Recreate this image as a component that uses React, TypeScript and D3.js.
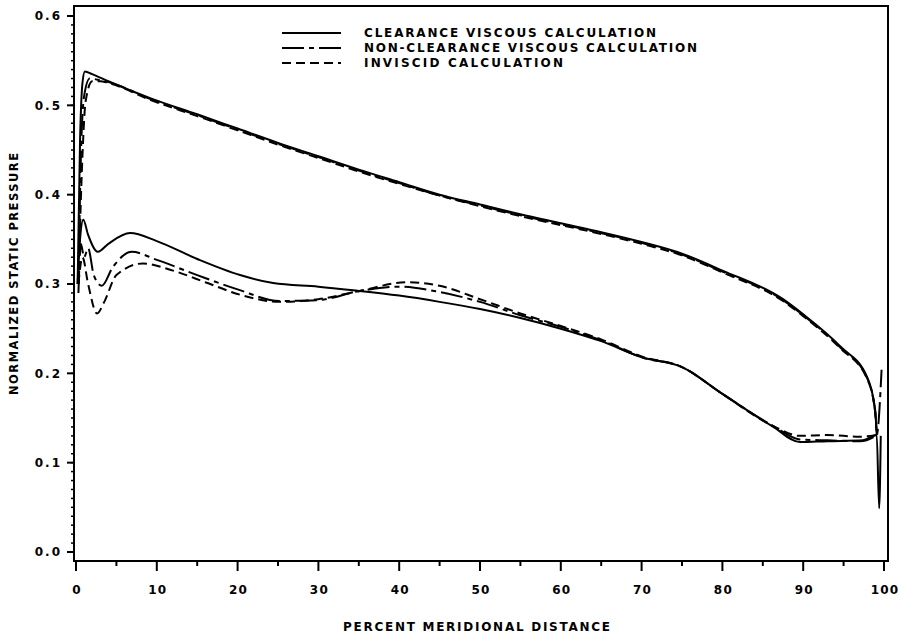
import * as d3 from "d3";

// percent meridional distance (x) and normalized static pressure (y)
const clearanceUpper: [number, number][] = [
  [0.2, 0.3], [0.5, 0.46], [0.8, 0.525], [1.1, 0.538], [2, 0.535], [4, 0.527],
  [9.5, 0.507], [15, 0.49], [20, 0.474], [25, 0.458], [30, 0.443], [35, 0.428],
  [40, 0.414], [45, 0.4], [50, 0.389], [55, 0.378], [60, 0.368], [65, 0.358],
  [70, 0.347], [75, 0.334], [80, 0.315], [87.5, 0.283], [90, 0.266],
  [94.6, 0.23], [97.9, 0.196], [98.9, 0.159], [99.1, 0.131],
];
const clearanceLower: [number, number][] = [
  [0.2, 0.3], [0.5, 0.35], [0.9, 0.372], [1.5, 0.355], [2.7, 0.336], [4, 0.345],
  [6.7, 0.357], [10, 0.348], [15, 0.328], [20.3, 0.31], [24.4, 0.301], [30, 0.297],
  [34.3, 0.293], [40, 0.287], [45, 0.28], [50, 0.272], [55, 0.262], [60, 0.25],
  [65, 0.236], [70, 0.218], [75, 0.207], [80, 0.177], [86.3, 0.14], [89.6, 0.123],
  [93, 0.124], [97.4, 0.125], [99.1, 0.131], [99.4, 0.049], [99.6, 0.13],
];
const nonClearanceUpper: [number, number][] = [
  [0.3, 0.3], [0.6, 0.44], [1, 0.51], [1.7, 0.53], [3, 0.528], [4, 0.526],
  [9.5, 0.506], [15, 0.489], [20, 0.473], [25, 0.457], [30, 0.442], [35, 0.427],
  [40, 0.413], [45, 0.399], [50, 0.388], [55, 0.377], [60, 0.367], [65, 0.357],
  [70, 0.346], [75, 0.333], [80, 0.314], [87.5, 0.282], [90, 0.265],
  [94.6, 0.229], [97.9, 0.195], [98.9, 0.158], [99.1, 0.131],
];
const nonClearanceLower: [number, number][] = [
  [0.3, 0.29], [0.6, 0.345], [1, 0.33], [1.5, 0.34], [2.2, 0.31], [3.2, 0.298],
  [4.5, 0.318], [6.9, 0.336], [10, 0.327], [15, 0.31], [20, 0.294], [25.2, 0.281],
  [30, 0.282], [35, 0.292], [40, 0.297], [45, 0.291], [50, 0.28], [55, 0.265],
  [60, 0.252], [65, 0.237], [70, 0.218], [75, 0.207], [80, 0.177], [86.3, 0.141],
  [89.6, 0.126], [93, 0.125], [97, 0.124], [99.1, 0.131], [99.7, 0.204],
];
const inviscidUpper: [number, number][] = [
  [0.3, 0.3], [0.7, 0.42], [1.2, 0.505], [2, 0.527], [3, 0.527], [4, 0.525],
  [9.5, 0.505], [15, 0.488], [20, 0.472], [25, 0.456], [30, 0.441], [35, 0.426],
  [40, 0.412], [45, 0.399], [50, 0.387], [55, 0.376], [60, 0.366], [65, 0.356],
  [70, 0.345], [75, 0.332], [80, 0.313], [87.5, 0.281], [90, 0.264],
  [94.6, 0.228], [97.9, 0.194], [98.9, 0.157], [99.1, 0.131],
];
const inviscidLower: [number, number][] = [
  [0.3, 0.3], [0.8, 0.33], [1.5, 0.3], [2.6, 0.267], [3.5, 0.28], [5, 0.31],
  [8.3, 0.323], [12, 0.315], [16, 0.302], [20.3, 0.288], [25.2, 0.28], [30, 0.283],
  [35, 0.292], [41, 0.302], [45, 0.298], [50, 0.283], [55, 0.267], [60, 0.253],
  [65, 0.238], [70, 0.219], [75, 0.207], [80, 0.177], [86.3, 0.141], [89.6, 0.13],
  [93, 0.131], [97, 0.129], [99.1, 0.131],
];

const legendLabels = [
  "CLEARANCE VISCOUS CALCULATION",
  "NON-CLEARANCE VISCOUS CALCULATION",
  "INVISCID CALCULATION",
];
const dashes = ["none", "22,5,5,5", "9,5"];
const series = [
  { curves: [clearanceUpper, clearanceLower], dash: dashes[0] },
  { curves: [nonClearanceUpper, nonClearanceLower], dash: dashes[1] },
  { curves: [inviscidUpper, inviscidLower], dash: dashes[2] },
];

const xTicks = d3.range(0, 101, 10);
const xMinor = d3.range(5, 100, 10);
const yTicks = d3.range(0, 7).map((i) => i / 10);
const yMinor = d3.range(0, 61).map((i) => i / 100);

const W = 901;
const H = 638;
const frame = { left: 74, right: 888, top: 6, bottom: 561 };
const font = "'DejaVu Sans', sans-serif";

export default function App() {
  const x = d3.scaleLinear().domain([0, 100]).range([76, 884]);
  const y = d3.scaleLinear().domain([0, 0.6]).range([552, 16]);
  const line = d3
    .line<[number, number]>()
    .curve(d3.curveMonotoneX)
    .x((d) => x(d[0]))
    .y((d) => y(d[1]));

  const legendWidths = [292, 333, 199];

  return (
    <svg
      width={W}
      height={H}
      style={{ position: "absolute", left: 0, top: 0, background: "#fff" }}
    >
      {/* frame */}
      <rect
        x={frame.left}
        y={frame.top}
        width={frame.right - frame.left}
        height={frame.bottom - frame.top}
        fill="none"
        stroke="#000"
        strokeWidth={2}
      />

      {/* y ticks */}
      {yMinor.map((v) => (
        <line key={"ym" + v} x1={frame.left - 3} x2={frame.left} y1={y(v)} y2={y(v)} stroke="#000" strokeWidth={1.5} />
      ))}
      {yTicks.map((v) => (
        <g key={"y" + v}>
          <line x1={frame.left - 7} x2={frame.left} y1={y(v)} y2={y(v)} stroke="#000" strokeWidth={2} />
          <text
            x={62}
            y={y(v)}
            dy="0.36em"
            textAnchor="end"
            fontFamily={font}
            fontWeight="bold"
            fontSize={12}
            letterSpacing={2}
          >
            {v.toFixed(1)}
          </text>
        </g>
      ))}

      {/* x ticks */}
      {xMinor.map((v) => (
        <line key={"xm" + v} x1={x(v)} x2={x(v)} y1={frame.bottom} y2={frame.bottom + 5} stroke="#000" strokeWidth={2} />
      ))}
      {xTicks.map((v) => (
        <g key={"x" + v}>
          <line x1={x(v)} x2={x(v)} y1={frame.bottom} y2={frame.bottom + 10} stroke="#000" strokeWidth={2} />
          <text
            x={x(v) + 1}
            y={590}
            dy="0.36em"
            textAnchor="middle"
            fontFamily={font}
            fontWeight="bold"
            fontSize={12}
            letterSpacing={1.2}
          >
            {v}
          </text>
        </g>
      ))}

      {/* axis titles */}
      <text
        x={343}
        y={627}
        dy="0.36em"
        textLength={267}
        lengthAdjust="spacing"
        fontFamily={font}
        fontWeight="bold"
        fontSize={12}
      >
        PERCENT MERIDIONAL DISTANCE
      </text>
      <text
        transform={`translate(14,395) rotate(-90)`}
        dy="0.36em"
        textLength={242}
        lengthAdjust="spacing"
        fontFamily={font}
        fontWeight="bold"
        fontSize={11.5}
      >
        NORMALIZED STATIC PRESSURE
      </text>

      {/* curves */}
      {series.map((s, i) =>
        s.curves.map((c, j) => (
          <path
            key={i + "-" + j}
            d={line(c) ?? ""}
            fill="none"
            stroke="#000"
            strokeWidth={2}
            strokeDasharray={s.dash}
          />
        ))
      )}

      {/* legend */}
      {legendLabels.map((label, i) => (
        <g key={label} transform={`translate(0,${33 + i * 15})`}>
          <line x1={282} x2={341} y1={0} y2={0} stroke="#000" strokeWidth={2} strokeDasharray={dashes[i]} />
          <text
            x={364}
            y={0}
            dy="0.36em"
            textLength={legendWidths[i]}
            lengthAdjust="spacing"
            fontFamily={font}
            fontWeight="bold"
            fontSize={12}
          >
            {label}
          </text>
        </g>
      ))}
    </svg>
  );
}
